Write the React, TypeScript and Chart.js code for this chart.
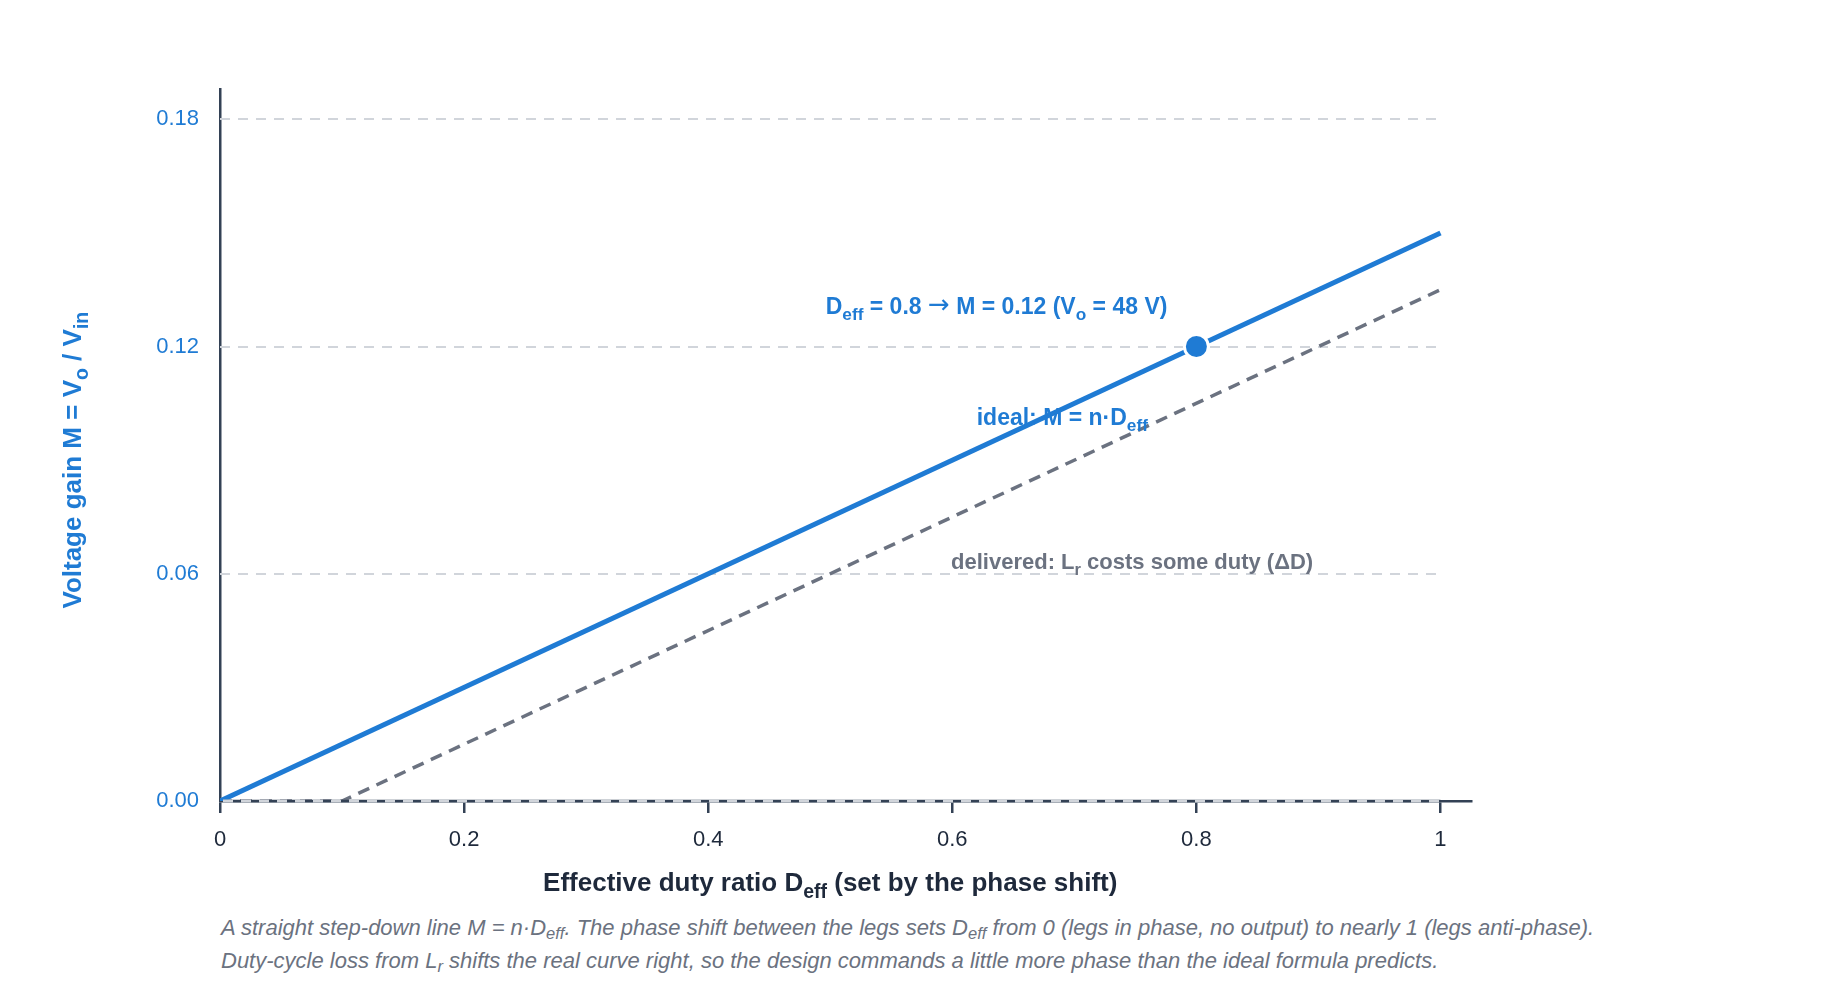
import React, { useEffect, useRef } from "react";
import { Chart, registerables } from "chart.js";

Chart.register(...registerables);

// ---- data ----
const IDEAL_D = [0, 1];
const IDEAL_M = [0, 0.15];
const DELIV_D = [0, 0.1, 1];
const DELIV_M = [0, 0, 0.135];
const OP_D = [0.8];
const OP_M = [0.12];
const X_TICKS = [0, 0.2, 0.4, 0.6, 0.8, 1];
const Y_TICKS = [0, 0.06, 0.12, 0.18];
const X_MAX = 1.025;
const Y_MAX = 0.188;

// ---- styles ----
const BLUE = "#1f7bd4";
const GRAY = "#6b7280";
const AXIS = "#334155";
const GRID = "#d1d5db";
const DARK = "#1e293b";
const FAMILY = "'Liberation Sans', Arial, Helvetica, sans-serif";

type Part = { t: string; sub?: boolean; font?: string; dy?: number };

function fontFor(size: number, weight: string, sub?: boolean) {
  const s = sub ? size * 0.75 : size;
  return `${weight} ${s}px ${FAMILY}`;
}

function drawRich(
  ctx: CanvasRenderingContext2D,
  parts: Part[],
  x: number,
  y: number,
  size: number,
  weight: string,
  color: string,
  align: "left" | "center" | "right"
) {
  ctx.save();
  ctx.textBaseline = "alphabetic";
  ctx.textAlign = "left";
  let w = 0;
  const widths: number[] = [];
  for (const p of parts) {
    ctx.font = p.font || fontFor(size, weight, p.sub);
    const m = ctx.measureText(p.t).width;
    widths.push(m);
    w += m;
  }
  let cx = align === "center" ? x - w / 2 : align === "right" ? x - w : x;
  ctx.fillStyle = color;
  parts.forEach((p, i) => {
    ctx.font = p.font || fontFor(size, weight, p.sub);
    ctx.fillText(p.t, cx, y + (p.sub ? size * 0.26 : 0) + (p.dy || 0));
    cx += widths[i];
  });
  ctx.restore();
}

const overlayPlugin = {
  id: "overlay",
  beforeDatasetsDraw(chart: any) {
    const { ctx, scales } = chart;
    const x = scales.x;
    const y = scales.y;
    const x0 = x.getPixelForValue(X_TICKS[0]);
    const x1 = x.getPixelForValue(X_TICKS[X_TICKS.length - 1]);
    ctx.save();
    ctx.strokeStyle = GRID;
    ctx.lineWidth = 2;
    ctx.setLineDash([10, 8]);
    for (const v of Y_TICKS) {
      if (v === 0) continue;
      const py = Math.round(y.getPixelForValue(v));
      ctx.beginPath();
      ctx.moveTo(x0, py);
      ctx.lineTo(x1, py);
      ctx.stroke();
    }
    ctx.restore();
  },
  afterDatasetsDraw(chart: any) {
    const { ctx, scales } = chart;
    const x = scales.x;
    const y = scales.y;
    const x0 = x.getPixelForValue(X_TICKS[0]);
    const x1 = x.getPixelForValue(X_TICKS[X_TICKS.length - 1]);

    // zero gridline laid over the axis
    const pz = Math.round(y.getPixelForValue(0));
    ctx.save();
    ctx.strokeStyle = AXIS;
    ctx.lineWidth = 2.5;
    ctx.beginPath();
    ctx.moveTo(x0 + 3, pz);
    ctx.lineTo(x1, pz);
    ctx.stroke();
    ctx.strokeStyle = GRID;
    ctx.lineWidth = 3;
    ctx.setLineDash([10, 8]);
    ctx.beginPath();
    ctx.moveTo(x0 + 3, pz);
    ctx.lineTo(x1, pz);
    ctx.stroke();
    ctx.restore();

    // annotation: operating point
    const px = x.getPixelForValue(OP_D[0]);
    const py = y.getPixelForValue(OP_M[0]);
    drawRich(
      ctx,
      [
        { t: "D" },
        { t: "eff", sub: true },
        { t: " = 0.8 " },
        { t: "\u2192", font: `normal 26px 'DejaVu Sans', sans-serif`, dy: -1 },
        { t: " M = 0.12 (V" },
        { t: "o", sub: true },
        { t: " = 48 V)" },
      ],
      px - 29,
      py - 33,
      23,
      "bold",
      BLUE,
      "right"
    );

    // annotation: ideal line
    drawRich(
      ctx,
      [{ t: "ideal: M = n\u00b7D" }, { t: "eff", sub: true }],
      x.getPixelForValue(0.62),
      y.getPixelForValue(0.0994),
      23,
      "bold",
      BLUE,
      "left"
    );

    // annotation: delivered line
    drawRich(
      ctx,
      [{ t: "delivered: L" }, { t: "r", sub: true }, { t: " costs some duty (\u0394D)" }],
      x.getPixelForValue(0.599),
      y.getPixelForValue(0.0613),
      22,
      "bold",
      GRAY,
      "left"
    );
  },
  afterDraw(chart: any) {
    const { ctx, scales } = chart;
    const x = scales.x;
    const y = scales.y;
    // x title
    const xc = (x.getPixelForValue(X_TICKS[0]) + x.getPixelForValue(X_TICKS[X_TICKS.length - 1])) / 2;
    drawRich(
      ctx,
      [{ t: "Effective duty ratio D" }, { t: "eff", sub: true }, { t: " (set by the phase shift)" }],
      xc,
      883,
      26,
      "bold",
      DARK,
      "center"
    );
    // y title
    const yc = (y.getPixelForValue(Y_TICKS[0]) + y.getPixelForValue(Y_TICKS[Y_TICKS.length - 1])) / 2;
    ctx.save();
    ctx.translate(73, yc);
    ctx.rotate(-Math.PI / 2);
    drawRich(
      ctx,
      [
        { t: "Voltage gain M = V" },
        { t: "o", sub: true },
        { t: " / V" },
        { t: "in", sub: true },
      ],
      0,
      0,
      26,
      "bold",
      BLUE,
      "center"
    );
    ctx.restore();
  },
};

export default function App() {
  const ref = useRef<HTMLCanvasElement | null>(null);

  useEffect(() => {
    if (!ref.current) return;
    const chart = new Chart(ref.current, {
      type: "scatter",
      data: {
        datasets: [
          {
            label: "Operating point",
            data: OP_D.map((d, i) => ({ x: d, y: OP_M[i] })),
            backgroundColor: BLUE,
            borderColor: "#ffffff",
            pointRadius: 12,
            pointBorderWidth: 3,
            showLine: false,
          },
          {
            label: "ideal",
            data: IDEAL_D.map((d, i) => ({ x: d, y: IDEAL_M[i] })),
            borderColor: BLUE,
            backgroundColor: BLUE,
            borderWidth: 5,
            pointRadius: 0,
            showLine: true,
          },
          {
            label: "delivered",
            data: DELIV_D.map((d, i) => ({ x: d, y: DELIV_M[i] })),
            borderColor: GRAY,
            backgroundColor: GRAY,
            borderWidth: 3.5,
            borderDash: [12, 8],
            pointRadius: 0,
            showLine: true,
          },
        ],
      },
      options: {
        animation: false,
        responsive: false,
        devicePixelRatio: 1,
        layout: { padding: { left: 0, right: 369, top: 81, bottom: 7 } },
        plugins: {
          legend: { display: false },
          tooltip: { enabled: false },
          title: { display: false },
        },
        scales: {
          x: {
            type: "linear",
            min: 0,
            max: X_MAX,
            afterBuildTicks: (s: any) => {
              s.ticks = X_TICKS.map((v) => ({ value: v }));
            },
            afterFit: (s: any) => {
              s.height = 100;
            },
            grid: {
              display: true,
              drawOnChartArea: false,
              drawTicks: true,
              tickLength: 12,
              color: AXIS,
              lineWidth: 2.5,
            },
            border: { display: true, color: AXIS, width: 2.5 },
            ticks: {
              color: DARK,
              font: { family: FAMILY, size: 22 },
              padding: 14,
              maxRotation: 0,
              autoSkip: false,
              callback: (v: any) => String(v),
            },
          },
          y: {
            type: "linear",
            min: 0,
            max: Y_MAX,
            afterBuildTicks: (s: any) => {
              s.ticks = Y_TICKS.map((v) => ({ value: v }));
            },
            afterFit: (s: any) => {
              s.width = 212;
            },
            grid: { display: false, drawTicks: false },
            border: { display: true, color: AXIS, width: 2.5 },
            ticks: {
              color: BLUE,
              font: { family: FAMILY, size: 22 },
              padding: 21,
              callback: (v: any) => Number(v).toFixed(2),
            },
          },
        },
      },
      plugins: [overlayPlugin],
    } as any);
    return () => chart.destroy();
  }, []);

  const subStyle: React.CSSProperties = {
    fontSize: "0.75em",
    verticalAlign: "-0.25em",
    lineHeight: 0,
  };

  return (
    <div>
      <canvas ref={ref} width={1832} height={900} style={{ display: "block", width: 1832, height: 900 }} />
      <div
        style={{
          marginLeft: 213,
          marginTop: 3,
          fontFamily: FAMILY,
          fontStyle: "italic",
          fontSize: 22,
          lineHeight: "33px",
          color: GRAY,
        }}
      >
        <div>
          A straight step-down line M = n·D<span style={subStyle}>eff</span>. The phase shift between the legs sets D
          <span style={subStyle}>eff</span> from 0 (legs in phase, no output) to nearly 1 (legs anti-phase).
        </div>
        <div>
          Duty-cycle loss from L<span style={subStyle}>r</span> shifts the real curve right, so the design commands a
          little more phase than the ideal formula predicts.
        </div>
      </div>
    </div>
  );
}
